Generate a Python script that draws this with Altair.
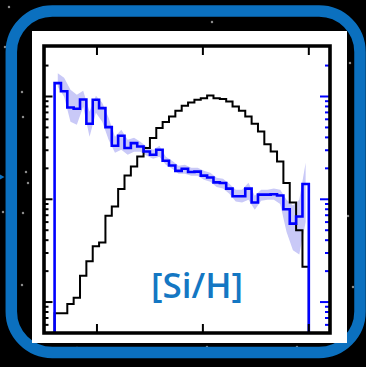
import altair as alt
import pandas as pd

# Histogram bins along [Si/H]
bin_start = -1.2
bin_width = 0.03

# Black histogram: number of stars per bin (left axis, log)
black_counts = [7.8, 7.8, 9.6, 11, 18, 25, 35, 38, 69, 85,
                126, 170, 208, 261, 315, 394, 493, 564, 639, 726,
                812, 874, 929, 964, 1022, 964, 943, 894, 799, 726,
                639, 543, 457, 344, 292, 233, 144, 93, 50, 22]

# Blue histogram and its uncertainty band (right axis, log)
blue_vals = [1350, 1123, 782, 759, 935, 543, 929, 771, 504, 332,
             415, 315, 352, 326, 292, 271, 303, 237, 213, 189,
             198, 184, 186, 170, 163, 146, 144, 127, 107, 107,
             127, 93, 111, 111, 112, 109, 80, 58, 68, 141]
blue_upper = [1682, 1520, 1162, 1039, 1136, 710, 1016, 868, 621, 406,
              475, 379, 397, 363, 324, 303, 332, 259, 237, 212,
              217, 203, 203, 189, 181, 162, 158, 142, 124, 124,
              145, 108, 124, 124, 127, 124, 99, 87, 99, 227]
blue_lower = [1243, 993, 567, 531, 794, 406, 694, 567, 379, 283,
              303, 271, 290, 290, 265, 248, 259, 217, 198, 177,
              177, 169, 169, 155, 148, 132, 127, 113, 95, 93,
              99, 79, 97, 99, 99, 90, 48, 32, 29, 60]

# Tick positions
x_major = [-1.0, -0.5, 0.0]
y_major = [10, 100, 1000]
y_minor = [6, 7, 8, 9, 20, 30, 40, 50, 60, 70, 80, 90,
           200, 300, 400, 500, 600, 700, 800, 900, 2000]

# Background star field (canvas pixels)
star_x = [212, 350, 22, 23, 26, 28, 3, 23, 22, 348, 353, 77, 207, 297, 137, 9, 5]
star_y = [22, 63, 92, 117, 172, 183, 212, 213, 285, 216, 287, 348, 347, 347, 350, 7, 47]

W, H = 286, 287
BORDER = "#0B70BF"
BLUE = "#0000FF"
BAND = "#C9C9F7"
Y_FLOOR = 5

n = len(black_counts)
edges = [round(bin_start + bin_width * i, 3) for i in range(n + 1)]
centers = [round(bin_start + bin_width * (i + 0.5), 3) for i in range(n)]


def step_frame(vals):
    xs = [edges[0]] + edges[:n] + [edges[n], edges[n]]
    ys = [Y_FLOOR] + list(vals) + [vals[-1], Y_FLOOR]
    return pd.DataFrame({"x": xs, "y": ys, "k": list(range(len(xs)))})


xs = alt.Scale(domain=[-1.25, 0.1], nice=False, zero=False)
ys = alt.Scale(type="log", domain=[5, 3100], nice=False)

one = pd.DataFrame({"a": [0]})

border = alt.Chart(one).mark_rect(
    fillOpacity=0, stroke=BORDER, strokeWidth=11.5, cornerRadius=41
).encode(x=alt.value(-32.7), x2=alt.value(316), y=alt.value(-35), y2=alt.value(306.5))

arrow = alt.Chart(one).mark_point(
    shape="triangle-right", filled=True, color=BORDER, size=160, opacity=1
).encode(x=alt.value(-45), y=alt.value(131))

stars = alt.Chart(pd.DataFrame({"sx": star_x, "sy": star_y})).mark_circle(
    color="#9a9a9a", size=6, opacity=0.9
).encode(
    x=alt.X("sx:Q", scale=alt.Scale(domain=[0, 366], range=[-44, 322]), axis=None),
    y=alt.Y("sy:Q", scale=alt.Scale(domain=[0, 367], range=[-46, 321]), axis=None),
)

panel = alt.Chart(one).mark_rect(fill="white").encode(
    x=alt.value(-12), x2=alt.value(303), y=alt.value(-15), y2=alt.value(297)
)

band_df = pd.DataFrame({"x": centers, "hi": blue_upper, "lo": blue_lower})
band = alt.Chart(band_df).mark_area(color=BAND, opacity=1).encode(
    x=alt.X("x:Q", scale=xs, axis=None),
    y=alt.Y("hi:Q", scale=ys, axis=None),
    y2="lo:Q",
)

black = alt.Chart(step_frame(black_counts)).mark_line(
    interpolate="step-after", color="black", strokeWidth=2
).encode(
    x=alt.X("x:Q", scale=xs, axis=None),
    y=alt.Y("y:Q", scale=ys, axis=None),
    order="k:Q",
)

blue = alt.Chart(step_frame(blue_vals)).mark_line(
    interpolate="step-after", color=BLUE, strokeWidth=2.6
).encode(
    x=alt.X("x:Q", scale=xs, axis=None),
    y=alt.Y("y:Q", scale=ys, axis=None),
    order="k:Q",
)


def ytick(vals, x0, x1, color):
    return alt.Chart(pd.DataFrame({"v": vals})).mark_rule(color=color, strokeWidth=2).encode(
        y=alt.Y("v:Q", scale=ys, axis=None), x=alt.value(x0), x2=alt.value(x1)
    )


def xtick(y0, y1):
    return alt.Chart(pd.DataFrame({"v": x_major})).mark_rule(color="black", strokeWidth=2).encode(
        x=alt.X("v:Q", scale=xs, axis=None), y=alt.value(y0), y2=alt.value(y1)
    )


ticks = [
    ytick(y_major, 0, 8.5, "black"),
    ytick(y_minor, 0, 4.5, "black"),
    ytick(y_major, W, W - 10, BLUE),
    ytick(y_minor, W, W - 5, BLUE),
    xtick(0, 9),
    xtick(H, H - 9),
]

frame = alt.Chart(one).mark_rect(
    fillOpacity=0, stroke="black", strokeWidth=3.6
).encode(x=alt.value(0), x2=alt.value(W), y=alt.value(0), y2=alt.value(H))

label = alt.Chart(one).mark_text(
    text="[Si/H]", font="Open Sans", fontSize=35, fontWeight=600,
    color="#1477C3", align="center", baseline="alphabetic"
).encode(x=alt.value(153), y=alt.value(252))

chart = alt.layer(
    stars, arrow, border, panel, band, black, blue, *ticks, frame, label
).resolve_scale(
    x="independent", y="independent"
).properties(
    width=W, height=H,
    padding={"left": 44, "top": 46, "right": 36, "bottom": 34},
    autosize="none",
    background="black",
).configure_view(stroke=None)

chart.save("out.html", embed_options={"renderer": "svg", "actions": False})
